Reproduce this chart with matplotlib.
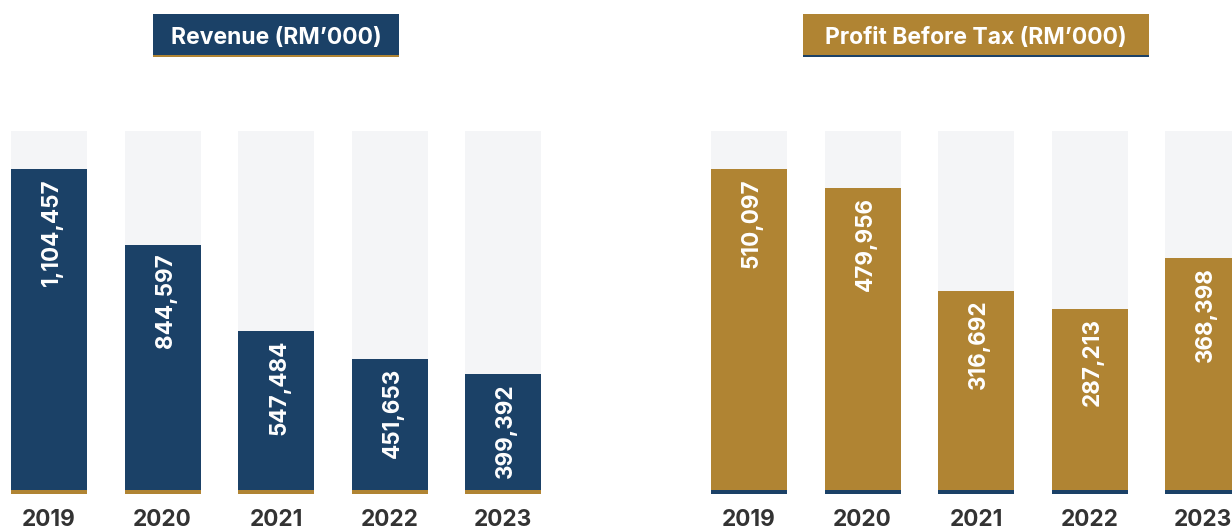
import matplotlib
matplotlib.use('Agg')
import matplotlib.pyplot as plt
from matplotlib.patches import Rectangle
import matplotlib.transforms as mtransforms

years = ['2019', '2020', '2021', '2022', '2023']
revenue = [1104457, 844597, 547484, 451653, 399392]
profit = [510097, 479956, 316692, 287213, 368398]
titles = ['Revenue (RM\u2019000)', 'Profit Before Tax (RM\u2019000)']

NAVY = '#1B4167'
GOLD = '#B08433'
BG = '#F4F5F7'
DARK = '#333333'

plt.rcParams['font.family'] = ['Inter', 'DejaVu Sans']

W, H = 1232, 529
DPI = 100
fig = plt.figure(figsize=(W / DPI, H / DPI), dpi=DPI)
fig.patch.set_facecolor('white')


def fx(x):
    return x / W


def fy(y):
    return 1 - y / H


ZERO_PX = 490
TOP_PX = 131
MAX_PX = 169
STRIP = 4
UNIT = 113.5
BAR_W = 76
PANEL_W = 616


def panel(left_px, first_center_px, values, color, strip_color, title,
          box, underline_color):
    ax = fig.add_axes([fx(left_px), 0, fx(PANEL_W), 1])
    s = (ZERO_PX - MAX_PX) / max(values)
    ax.set_ylim(-(H - ZERO_PX) / s, ZERO_PX / s)
    x0 = -(first_center_px - left_px) / UNIT
    ax.set_xlim(x0, x0 + PANEL_W / UNIT)
    ax.axis('off')
    x = list(range(len(values)))
    bw = BAR_W / UNIT
    bg_val = (ZERO_PX - TOP_PX) / s
    ax.bar(x, [bg_val] * len(values), width=bw, color=BG, linewidth=0)
    ax.bar(x, values, width=bw, color=color, linewidth=0)
    ax.bar(x, [STRIP / s] * len(values), bottom=-STRIP / s, width=bw,
           color=strip_color, linewidth=0)
    for i, v in enumerate(values):
        ax.annotate(f'{v:,}', (i, v), xytext=(3 * 72 / DPI, -9 * 72 / DPI),
                    textcoords='offset points', rotation=90, ha='center',
                    va='top', color='white', fontsize=16.2, fontweight='bold')
    tr = mtransforms.blended_transform_factory(ax.transData, fig.transFigure)
    for i, yl in enumerate(years):
        ax.text(i, fy(526.5), yl, transform=tr, ha='center', va='baseline',
                fontsize=16.3, fontweight='bold', color=DARK)
    # title box
    bx0, bx1, by0, by1 = box
    fig.add_artist(Rectangle((fx(bx0), fy(by1)), fx(bx1 - bx0), (by1 - by0) / H,
                             transform=fig.transFigure, facecolor=color,
                             edgecolor='none'))
    fig.add_artist(Rectangle((fx(bx0), fy(by1 + 2)), fx(bx1 - bx0), 2 / H,
                             transform=fig.transFigure, facecolor=underline_color,
                             edgecolor='none'))
    fig.text(fx((bx0 + bx1) / 2), fy(44), title, ha='center', va='baseline',
             color='white', fontsize=16.5, fontweight='bold')


panel(0, 49, revenue, NAVY, GOLD, titles[0], (153, 399, 14, 55), GOLD)
panel(616, 749, profit, GOLD, NAVY, titles[1], (803, 1149, 14, 55), NAVY)

fig.savefig('out.png', dpi=DPI, facecolor='white')
